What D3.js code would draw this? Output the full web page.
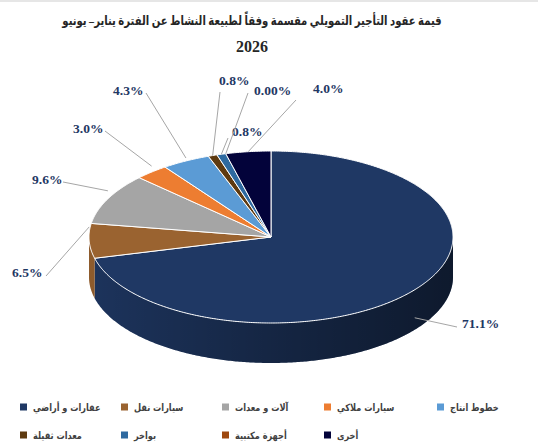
<!DOCTYPE html>
<html>
<head>
<meta charset="utf-8">
<script src="https://cdn.jsdelivr.net/npm/d3@7"></script>
<style>
  body { margin: 0; background: #fff; }
  svg { display: block; }
</style>
</head>
<body>
<svg></svg>
<script>
//Chart data
let categories = ['عقارات و أراضي', 'سيارات نقل', 'آلات و معدات', 'سيارات ملاكي', 'خطوط انتاج',
                  'معدات ثقيلة', 'بواخر', 'أجهزة مكتبية', 'أخرى']
let values = [71.1, 6.5, 9.6, 3.0, 4.3, 0.8, 0.8, 0.0, 4.0]
let valueLabels = ['71.1%', '6.5%', '9.6%', '3.0%', '4.3%', '0.8%', '0.8%', '0.00%', '4.0%']
let titleLines = ['قيمة عقود التأجير التمويلي مقسمة وفقاً لطبيعة النشاط عن الفترة يناير– يونيو', '2026']

//Slice colours, same order as categories
let colors = ['#1f3864', '#9a6330', '#a5a5a5', '#ed7d31', '#5b9bd5', '#5e3a10', '#2e6aa0', '#9e480e', '#03033a']

//Canvas and pie geometry
let width = 538
let height = 447
let cx = 271
let cy = 237
let rx = 182
let ry = 86
let depth = 40

//Label text centres and leader knee points (layout only)
let labelLayout = [
    {tx: 462, ty: 323, kx: 457, ky: 327, drop: 28},
    {tx: 12, ty: 272, kx: 46, ky: 276, drop: -14},
    {tx: 32, ty: 179, kx: 63, ky: 182, drop: -8},
    {tx: 73, ty: 128, kx: 105, ky: 131, drop: -6},
    {tx: 113, ty: 90, kx: 146, ky: 93, drop: -3},
    {tx: 219, ty: 80, kx: 220, ky: 92, drop: 0},
    {tx: 232, ty: 131, kx: 228, ky: 138, drop: 0},
    {tx: 254, ty: 90, kx: 248, ky: 93, drop: 0},
    {tx: 313, ty: 88, kx: 296, ky: 100, drop: 0}
]

//Legend layout
let legendCols = [20, 121, 222, 324, 437]
let legendRows = [407, 435]

let svg = d3.select('svg')
    .attr('width', width)
    .attr('height', height)

svg.append('rect')
    .attr('x', 0).attr('y', 0)
    .attr('width', width).attr('height', 2)
    .attr('fill', '#e6e6e6')

//Scales that project the unit circle onto the tilted ellipse
let xScale = d3.scaleLinear().domain([-1, 1]).range([cx - rx, cx + rx])
let yScale = d3.scaleLinear().domain([-1, 1]).range([cy - ry, cy + ry])

let pt = (a, dy = 0) => [xScale(Math.sin(a)), yScale(-Math.cos(a)) + dy]

let rimPoints = (a0, a1, dy = 0) => {
    let n = Math.max(2, Math.ceil((a1 - a0) / 0.01))
    return d3.range(n + 1).map(i => pt(a0 + (a1 - a0) * i / n, dy))
}

let line = d3.line()

let pie = d3.pie().sort(null).value(d => d)
let arcs = pie(values)

//Gradient that darkens the side wall towards the right
let defs = svg.append('defs')
let grad = defs.append('linearGradient')
    .attr('id', 'sideShade')
    .attr('gradientUnits', 'userSpaceOnUse')
    .attr('x1', cx - rx).attr('x2', cx + rx)
    .attr('y1', 0).attr('y2', 0)
grad.append('stop').attr('offset', '0%').attr('stop-color', '#000').attr('stop-opacity', 0.08)
grad.append('stop').attr('offset', '50%').attr('stop-color', '#000').attr('stop-opacity', 0.33)
grad.append('stop').attr('offset', '100%').attr('stop-color', '#000').attr('stop-opacity', 0.55)

//Side walls, only the front half is visible
let sideG = svg.append('g')
arcs.forEach((d, i) => {
    let s = Math.max(d.startAngle, Math.PI / 2)
    let e = Math.min(d.endAngle, Math.PI * 1.5)
    if (s >= e) return
    let pts = rimPoints(s, e).concat(rimPoints(s, e, depth).reverse())
    sideG.append('path')
        .attr('d', line(pts) + 'Z')
        .attr('fill', colors[i])
    sideG.append('path')
        .attr('d', line(pts) + 'Z')
        .attr('fill', 'url(#sideShade)')
})

//Top faces
svg.append('g')
    .selectAll('path')
    .data(arcs)
    .enter()
    .append('path')
    .attr('d', d => {
        if (d.endAngle - d.startAngle <= 0) return null
        return line([[cx, cy]].concat(rimPoints(d.startAngle, d.endAngle))) + 'Z'
    })
    .attr('fill', (d, i) => colors[i])
    .attr('stroke', '#fff')
    .attr('stroke-width', 1)
    .attr('stroke-linejoin', 'round')

//Leader lines and value labels
let labelG = svg.append('g')
arcs.forEach((d, i) => {
    let mid = (d.startAngle + d.endAngle) / 2
    let lay = labelLayout[i]
    let start = pt(mid, lay.drop)
    labelG.append('path')
        .attr('d', line([start, [lay.kx, lay.ky]]))
        .attr('fill', 'none')
        .attr('stroke', '#a6a6a6')
        .attr('stroke-width', 1)
    labelG.append('text')
        .attr('x', lay.tx)
        .attr('y', lay.ty)
        .attr('dy', '0.35em')
        .attr('font-family', 'Liberation Serif, serif')
        .attr('font-weight', 'bold')
        .attr('font-size', 13.5)
        .attr('fill', '#1f3864')
        .text(valueLabels[i])
})

//Title (Arabic line squeezed horizontally to the width of the original font)
svg.append('g')
    .selectAll('text')
    .data(titleLines)
    .enter()
    .append('text')
    .attr('transform', (d, i) => 'translate(252,' + (20 + i * 26) + ') scale(' + (i === 0 ? 0.775 : 1) + ',1)')
    .attr('dy', '0.35em')
    .attr('text-anchor', 'middle')
    .attr('font-family', 'Liberation Serif, DejaVu Sans, serif')
    .attr('font-weight', 'bold')
    .attr('font-size', (d, i) => i === 0 ? 13 : 16)
    .attr('fill', '#262626')
    .text(d => d)

//Legend
let legend = svg.append('g')
    .selectAll('g')
    .data(categories)
    .enter()
    .append('g')
    .attr('transform', (d, i) => 'translate(' + legendCols[i % 5] + ',' + legendRows[Math.floor(i / 5)] + ')')

legend.append('rect')
    .attr('x', 0).attr('y', -3.5)
    .attr('width', 7).attr('height', 7)
    .attr('fill', (d, i) => colors[i])

legend.append('text')
    .attr('transform', 'translate(13,0) scale(0.82,1)')
    .attr('dy', '0.35em')
    .attr('font-family', 'DejaVu Sans, sans-serif')
    .attr('font-weight', 'bold')
    .attr('font-size', 10)
    .attr('fill', '#404040')
    .text(d => d)
</script>
</body>
</html>
